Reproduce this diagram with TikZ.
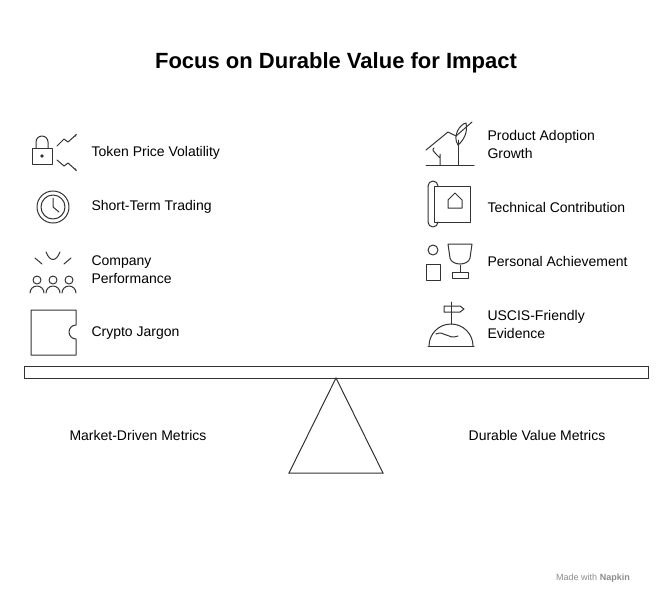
\documentclass[tikz,border=0pt]{standalone}
\usepackage{fontspec}
\setmainfont{Liberation Sans}
\usetikzlibrary{calc}
\usetikzlibrary{arrows.meta}

\begin{document}
\begin{tikzpicture}[x=1pt, y=-1pt,
    item/.style={anchor=west, align=left, font=\fontsize{14}{18}\selectfont},
    side/.style={anchor=center, font=\fontsize{14}{18}\selectfont},
    icon/.style={line width=1pt, black!80, line cap=round, line join=round}]

\useasboundingbox (0,0) rectangle (672,606);

% Title
\node[font=\fontsize{22}{26}\selectfont\bfseries] (title) at (336,63) {Focus on Durable Value for Impact};

% Left items
\node[item] (tok) at (88,153) {Token Price Volatility};
\node[item] (stt) at (88,207) {Short-Term Trading};
\node[item] (cmp) at (88,270) {Company\\Performance};
\node[item] (cry) at (88,333) {Crypto Jargon};

% Right items
\node[item] (pag) at (484,144) {Product Adoption\\Growth};
\node[item] (tec) at (484,207) {Technical Contribution};
\node[item] (per) at (484,261) {Personal Achievement};
\node[item] (usc) at (484,324) {USCIS-Friendly\\Evidence};

% Icons left
\draw[icon] (32,148) rectangle (52,164);
\draw[icon] (36,148) -- (36,142) arc (180:360:6) -- (48,148);
\fill[black!80] (42,156) circle (1.8);
\draw[icon, -{Stealth[length=3pt]}] (57,146) -- (64,139) -- (68,142) -- (77,134);
\draw[icon, -{Stealth[length=3pt]}] (57,160) -- (64,166) -- (68,163) -- (77,171);
\draw[icon] (53,207) circle (16);
\draw[icon] (53,207) circle (12);
\draw[icon] (53,198) -- (53,207) -- (59,212);
\foreach \px in {37,53,69} {
  \draw[icon] (\px,280) circle (4);
  \draw[icon] (\px-7,293) arc (180:360:7);
}
\draw[icon] (35,258) -- (42,264); \draw[icon] (71,258) -- (64,264);
\draw[icon] (46,252) .. controls (50,262) and (56,262) .. (60,252);
\draw[icon] (31,310) -- (76,310) -- (76,325) arc (270:90:7) -- (76,355) -- (31,355) -- cycle;

% Icons right
\draw[icon] (426,165) -- (474,165);
\draw[icon] (426,150) -- (448,132) -- (456,136) -- (472,122);
\draw[icon] (458,165) -- (458,140);
\draw[icon] (458,145) .. controls (452,136) and (460,124) .. (466,123) .. controls (468,132) and (464,140) .. (458,145);
\draw[icon] (440,165) -- (440,154) (440,158) .. controls (432,150) .. (434,148);
\draw[icon] (434,186) rectangle (470,222);
\draw[icon] (428,186) -- (428,222) (428,222) arc (180:0:5);
\draw[icon] (428,186) arc (180:360:5);
\draw[icon] (448,208) -- (448,200) -- (455,193) -- (462,200) -- (462,208) -- cycle;
\draw[icon] (433,250) circle (5);
\draw[icon] (426,280) -- (426,264) -- (440,264) -- (440,280) -- cycle;
\draw[icon] (448,244) -- (472,244) -- (470,258) .. controls (468,266) and (452,266) .. (450,258) -- cycle;
\draw[icon] (460,265) -- (460,272) (452,278) rectangle (468,272);
\draw[icon] (429,346) arc (180:360:22);
\draw[icon] (428,346) -- (474,346);
\draw[icon] (451,324) -- (451,302);
\draw[icon] (444,306) -- (460,306) -- (464,309) -- (460,312) -- (444,312) -- cycle;
\draw[icon] (436,334) .. controls (444,330) and (448,340) .. (458,336);

% Beam and fulcrum
\draw[line width=1pt, black!80] (24,366) rectangle (648,378);
\coordinate (apex) at (336,378);
\draw[line width=1pt, black!80] (apex) -- (383,473) -- (289,473) -- cycle;

\node[side] (mdm) at (138,435) {Market-Driven Metrics};
\node[side] (dvm) at (537,435) {Durable Value Metrics};

\node[font=\fontsize{9}{11}\selectfont, text=black!45] (made) at (593,578) {Made with \textbf{Napkin}};
\end{tikzpicture}
\end{document}
